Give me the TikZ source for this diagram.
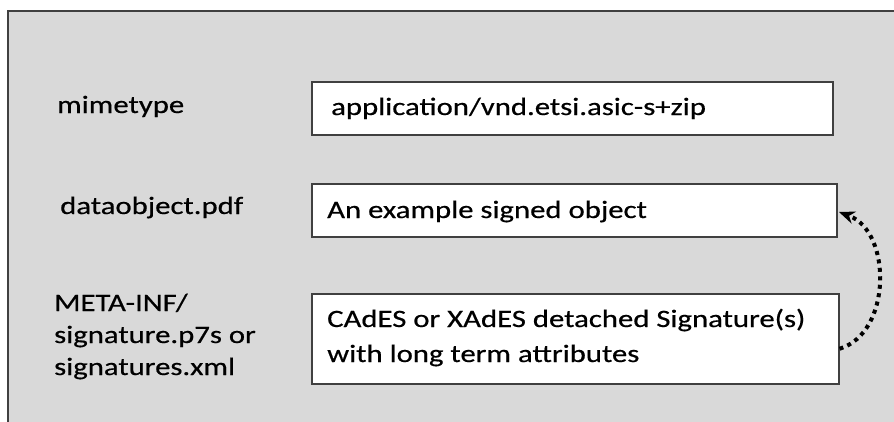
\documentclass[tikz,border=0pt]{standalone}
\usepackage{fontspec}
\setmainfont{Carlito}[FakeStretch=1.23,FakeBold=0.5]
\usetikzlibrary{arrows.meta}
\definecolor{panelgray}{HTML}{D9D9D9}
\definecolor{edgegray}{HTML}{404040}
\begin{document}
\begin{tikzpicture}[x=1pt,y=-1pt,
  valuebox/.style={draw=edgegray,line width=1.5pt,fill=white,inner sep=0pt},
  txt/.style={anchor=base west,inner sep=0pt,font=\fontsize{25}{35}\selectfont,text=black},
  lbl/.style={txt}]
\useasboundingbox (0,0) rectangle (894,421);
\clip (0,0) rectangle (894,421);
% container panel
\fill[panelgray,draw=edgegray,line width=1.5pt] (8,11) rectangle (910,440);
% value boxes
\node[valuebox,minimum width=521pt,minimum height=53pt,anchor=north west] (mimebox) at (311,81) {};
\node[valuebox,minimum width=525pt,minimum height=53pt,anchor=north west] (databox) at (311,183) {};
\node[valuebox,minimum width=527pt,minimum height=90pt,anchor=north west] (sigbox) at (311,293) {};
% entry names
\node[lbl] (mimename) at (57,113) {mimetype};
\node[lbl] (dataname) at (60,214) {dataobject.pdf};
\node[lbl] (signame1) at (54,311) {META-INF/};
\node[lbl] (signame2) at (54,343) {signature.p7s or};
\node[lbl] (signame3) at (54,375) {signatures.xml};
% box contents
\node[txt] (mimetext) at (331,115) {application/vnd.etsi.asic-s+zip};
\node[txt] (datatext) at (327,218) {An example signed object};
\node[txt] (sigtext1) at (327,327) {CAdES or XAdES detached Signature(s)};
\node[txt] (sigtext2) at (327,362) {with long term attributes};
% signature refers to the signed object
\coordinate (sigout) at ([yshift=-10pt]sigbox.east);
\coordinate (datain) at (839,212);
\draw[line width=4pt,dash pattern=on 4pt off 4.5pt,-{Stealth[length=16pt,width=13pt,line width=0pt]}]
  (sigout) .. controls (892,333) and (892,232) .. (datain);
\end{tikzpicture}
\end{document}
